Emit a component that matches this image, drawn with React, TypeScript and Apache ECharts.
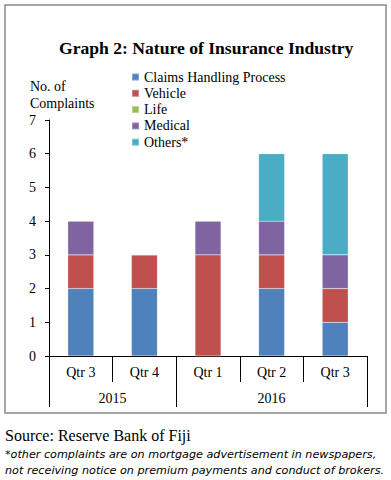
import React, { useEffect, useRef } from "react";
import * as echarts from "echarts";

const quarters = ["Qtr 3", "Qtr 4", "Qtr 1", "Qtr 2", "Qtr 3"];
const yearSlots = ["", "", "2015", "", "", "", "", "2016", "", "", ""];
const seriesNames = ["Claims Handling Process", "Vehicle", "Life", "Medical", "Others*"];
const claims = [2, 2, 0, 2, 1];
const vehicle = [1, 1, 3, 1, 1];
const life = [0, 0, 0, 0, 0];
const medical = [1, 0, 1, 1, 1];
const others = [0, 0, 0, 2, 3];
const colors = ["#4F81BD", "#C0504D", "#9BBB59", "#8064A2", "#4BACC6"];

const SERIF = "Liberation Serif";

export default function App() {
  const ref = useRef<HTMLDivElement>(null);
  useEffect(() => {
    if (!ref.current) return;
    const chart = echarts.init(ref.current, undefined, { renderer: "svg" });
    const values = [claims, vehicle, life, medical, others];
    chart.setOption({
      animation: false,
      backgroundColor: "#fff",
      textStyle: { fontFamily: SERIF, color: "#000" },
      title: {
        text: "Graph 2: Nature of Insurance Industry",
        left: 54,
        top: 34,
        textStyle: { fontFamily: SERIF, fontWeight: "bold", fontSize: 17.6, color: "#000" },
      },
      legend: {
        orient: "vertical",
        left: 131,
        top: 70,
        padding: 0,
        itemWidth: 7,
        itemHeight: 7,
        itemGap: 2.3,
        icon: "rect",
        data: seriesNames,
        textStyle: { fontFamily: SERIF, fontSize: 14, color: "#000" },
      },
      grid: { left: 49, right: 24, top: 120, bottom: 124 },
      xAxis: [
        {
          type: "category",
          data: quarters,
          position: "bottom",
          axisLine: { show: true, lineStyle: { color: "#000", width: 1 } },
          axisTick: { show: true, length: 26, lineStyle: { color: "#000" } },
          axisLabel: { margin: 9, fontFamily: SERIF, fontSize: 14, color: "#000" },
        },
        {
          type: "category",
          data: yearSlots,
          position: "bottom",
          boundaryGap: false,
          axisLine: { show: false },
          axisTick: {
            show: true,
            length: 51,
            interval: (i: number) => i === 0 || i === 4 || i === 10,
            lineStyle: { color: "#000" },
          },
          axisLabel: {
            margin: 35,
            interval: (i: number) => i === 2 || i === 7,
            fontFamily: SERIF,
            fontSize: 14,
            color: "#000",
          },
        },
      ],
      yAxis: {
        type: "value",
        min: 0,
        max: 7,
        interval: 1,
        splitLine: { show: false },
        axisLine: { show: true, lineStyle: { color: "#000" } },
        axisTick: { show: true, length: 4, lineStyle: { color: "#000" } },
        axisLabel: { margin: 13, fontFamily: SERIF, fontSize: 14, color: "#000" },
      },
      series: seriesNames.map((name, k) => ({
        name,
        type: "bar",
        stack: "total",
        xAxisIndex: 0,
        barWidth: 26,
        data: values[k],
        itemStyle: { color: colors[k], borderColor: "rgba(255,255,255,0.3)", borderWidth: 0.5 },
      })),
      graphic: [
        {
          type: "rect",
          shape: { x: 5, y: 5, width: 381, height: 408 },
          style: { fill: "none", stroke: "#8a8a8a", lineWidth: 1.5 },
          silent: true,
        },
        {
          type: "text",
          x: 30,
          y: 78,
          style: {
            text: "No. of\nComplaints",
            fontFamily: SERIF,
            fontSize: 14,
            lineHeight: 17,
            fill: "#000",
          },
        },
        {
          type: "text",
          x: 5,
          y: 427,
          style: { text: "Source: Reserve Bank of Fiji", fontFamily: SERIF, fontSize: 16, fill: "#000" },
        },
        {
          type: "text",
          x: 5,
          y: 446,
          style: {
            text: "*other complaints are on mortgage advertisement in newspapers,\nnot receiving notice on premium payments and conduct of brokers.",
            fontFamily: "DejaVu Sans",
            fontStyle: "italic",
            fontSize: 11.2,
            lineHeight: 16,
            fill: "#000",
          },
        },
      ],
    });
    return () => chart.dispose();
  }, []);
  return (
    <div
      ref={ref}
      style={{ position: "fixed", left: 0, top: 0, width: 391, height: 480 }}
    />
  );
}
